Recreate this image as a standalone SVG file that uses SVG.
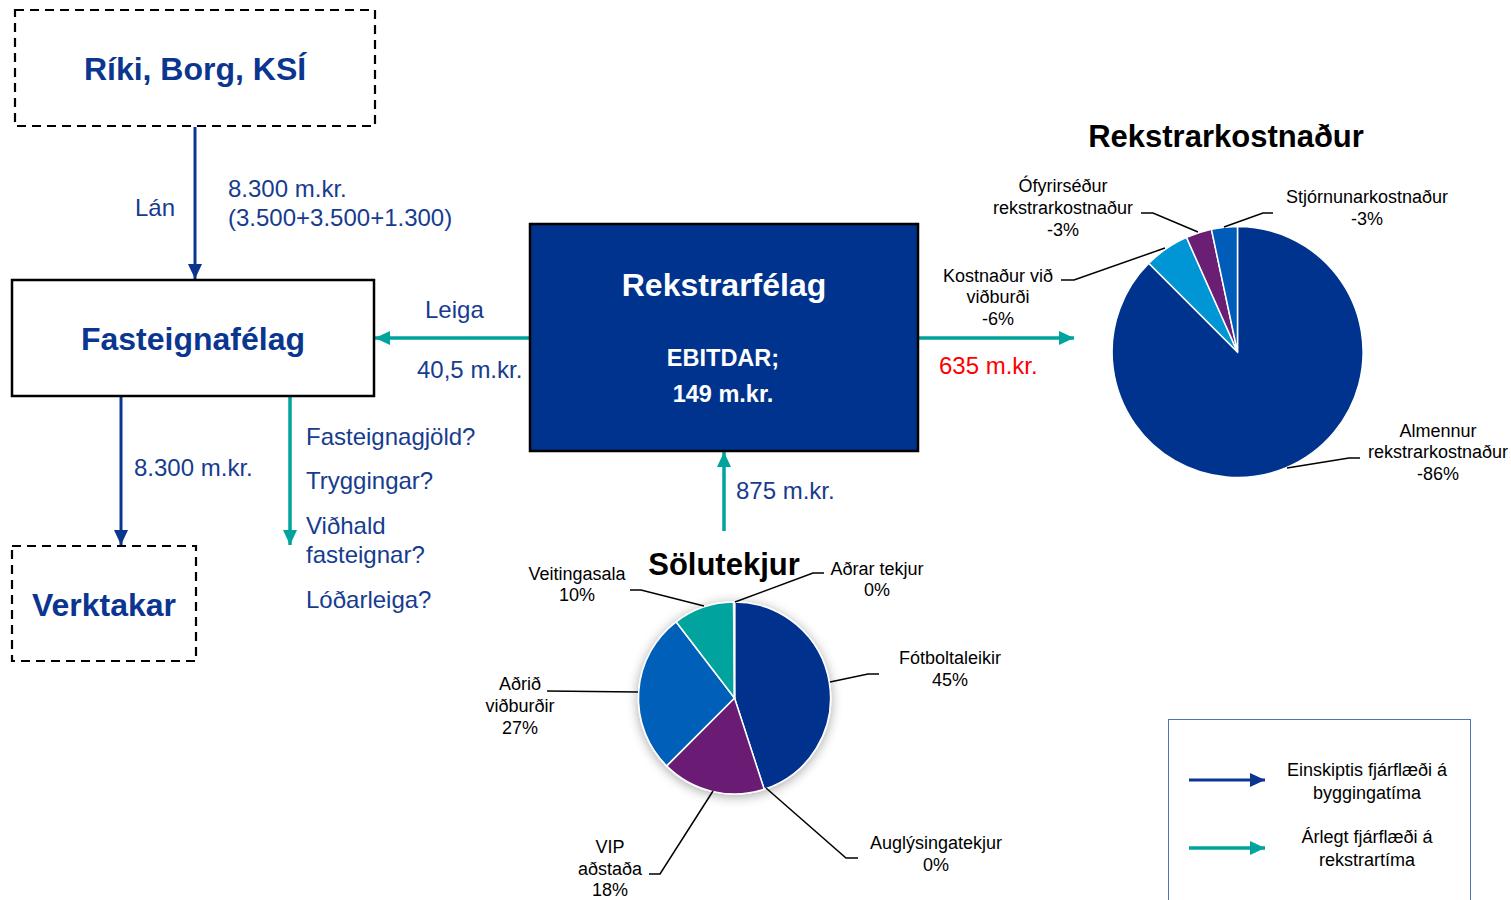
<svg xmlns="http://www.w3.org/2000/svg" width="1511" height="900" viewBox="0 0 1511 900">
<style>
.lbl{font-family:"Liberation Sans",Arial,sans-serif;font-size:24px;fill:#173C8F}
.big{font-family:"Liberation Sans",Arial,sans-serif;font-size:32px;font-weight:bold;fill:#0B3690}
.pl{font-family:"Liberation Sans",Arial,sans-serif;font-size:18px;fill:#000;text-anchor:middle}
.ttl{font-family:"Liberation Sans",Arial,sans-serif;font-size:31px;font-weight:bold;fill:#000;text-anchor:middle}
.navy{stroke:#0B3690;stroke-width:3;fill:none}
.teal{stroke:#00A39D;stroke-width:3.5;fill:none}
.dash{fill:#fff;stroke:#000;stroke-width:2.2;stroke-dasharray:9,6}
.lead{stroke:#000;stroke-width:1.5;fill:none}
.sl{stroke:#fff;stroke-width:1.5}
</style>
<defs>
<marker id="an" markerUnits="userSpaceOnUse" markerWidth="16" markerHeight="16" refX="15" refY="8" orient="auto"><path d="M0,1 L15,8 L0,15 z" fill="#0B3690"/></marker>
<marker id="at" markerUnits="userSpaceOnUse" markerWidth="16" markerHeight="16" refX="15" refY="8" orient="auto"><path d="M0,1 L15,8 L0,15 z" fill="#00A39D"/></marker>
<filter id="sh" x="-30%" y="-30%" width="160%" height="160%"><feGaussianBlur in="SourceAlpha" stdDeviation="6"/><feOffset dx="0" dy="2"/><feComponentTransfer><feFuncA type="linear" slope="0.35"/></feComponentTransfer><feMerge><feMergeNode/><feMergeNode in="SourceGraphic"/></feMerge></filter>
</defs>
<rect width="1511" height="900" fill="#fff"/>

<g id="connectors">
<line class="navy" x1="195" y1="127" x2="195" y2="279" marker-end="url(#an)"/>
<line class="navy" x1="121" y1="396" x2="121" y2="545" marker-end="url(#an)"/>
<line class="teal" x1="290" y1="396" x2="290" y2="545" marker-end="url(#at)"/>
<line class="teal" x1="530" y1="338" x2="375" y2="338" marker-end="url(#at)"/>
<line class="teal" x1="918" y1="338" x2="1074" y2="338" marker-end="url(#at)"/>
<line class="teal" x1="724" y1="531" x2="724" y2="452" marker-end="url(#at)"/>
<text class="lbl" x="135" y="216">Lán</text>
<text class="lbl" x="228" y="197">8.300 m.kr.</text>
<text class="lbl" x="228" y="226">(3.500+3.500+1.300)</text>
<text class="lbl" x="134" y="476">8.300 m.kr.</text>
<text class="lbl" x="306" y="445">Fasteignagjöld?</text>
<text class="lbl" x="306" y="489">Tryggingar?</text>
<text class="lbl" x="306" y="534">Viðhald</text>
<text class="lbl" x="306" y="563">fasteignar?</text>
<text class="lbl" x="306" y="608">Lóðarleiga?</text>
<text class="lbl" x="425" y="318">Leiga</text>
<text class="lbl" x="417" y="378">40,5 m.kr.</text>
<text class="lbl" x="939" y="374" style="fill:#FF0000">635 m.kr.</text>
<text class="lbl" x="736" y="499">875 m.kr.</text>
</g>

<g id="node-riki">
<rect class="dash" x="15" y="10" width="360" height="116"/>
<text class="big" x="195" y="80" text-anchor="middle">Ríki, Borg, KSÍ</text>
</g>

<g id="node-fasteignafelag">
<rect x="12" y="280" width="362" height="116" fill="#fff" stroke="#000" stroke-width="2.5"/>
<text class="big" x="193" y="350" text-anchor="middle">Fasteignafélag</text>
</g>

<g id="node-verktakar">
<rect class="dash" x="12" y="546" width="184" height="115"/>
<text class="big" x="104" y="616" text-anchor="middle">Verktakar</text>
</g>

<g id="node-rekstrarfelag">
<rect x="530" y="224" width="388" height="227" fill="#00338D" stroke="#000" stroke-width="2.5"/>
<text class="big" x="724" y="296" text-anchor="middle" style="fill:#fff">Rekstrarfélag</text>
<text x="723" y="366" text-anchor="middle" style="font-family:'Liberation Sans',Arial,sans-serif;font-size:23.5px;font-weight:bold;fill:#fff">EBITDAR;</text>
<text x="723" y="402" text-anchor="middle" style="font-family:'Liberation Sans',Arial,sans-serif;font-size:23.5px;font-weight:bold;fill:#fff">149 m.kr.</text>
</g>

<g id="node-rekstrarkostnadur">
<text class="ttl" x="1226" y="147">Rekstrarkostnaður</text>
<path d="M1237.5,352 L1237.5,226.5 A125.5,125.5 0 1 1 1148.8,263.3 Z" fill="#00338D" class="sl"/>
<path d="M1237.5,352 L1148.8,263.3 A125.5,125.5 0 0 1 1186.5,237.4 Z" fill="#0096D6" class="sl"/>
<path d="M1237.5,352 L1186.5,237.4 A125.5,125.5 0 0 1 1211.4,229.2 Z" fill="#6A1F74" class="sl"/>
<path d="M1237.5,352 L1211.4,229.2 A125.5,125.5 0 0 1 1237.5,226.5 Z" fill="#005CB9" class="sl"/>
<polyline class="lead" points="1141,213 1153,213 1198,232"/>
<polyline class="lead" points="1273,213 1263,213 1224,227"/>
<polyline class="lead" points="1061,280 1074,280 1165,248"/>
<polyline class="lead" points="1287,468 1349,458 1360,458"/>
<text class="pl" x="1063" y="192">Ófyrirséður</text>
<text class="pl" x="1063" y="214">rekstrarkostnaður</text>
<text class="pl" x="1063" y="236">-3%</text>
<text class="pl" x="1367" y="203">Stjórnunarkostnaður</text>
<text class="pl" x="1367" y="225">-3%</text>
<text class="pl" x="998" y="282">Kostnaður við</text>
<text class="pl" x="998" y="303">viðburði</text>
<text class="pl" x="998" y="325">-6%</text>
<text class="pl" x="1438" y="437">Almennur</text>
<text class="pl" x="1438" y="458">rekstrarkostnaður</text>
<text class="pl" x="1438" y="480">-86%</text>
</g>

<g id="node-solutekjur">
<g filter="url(#sh)">
<path d="M734.5,698 L734.5,602 A96,96 0 0 1 764.2,789.3 Z" fill="#00338D" class="sl"/>
<path d="M734.5,698 L764.2,789.3 A96,96 0 0 1 666.6,765.9 Z" fill="#6A1F74" class="sl"/>
<path d="M734.5,698 L666.6,765.9 A96,96 0 0 1 676.1,621.8 Z" fill="#005EB8" class="sl"/>
<path d="M734.5,698 L676.1,621.8 A96,96 0 0 1 733.5,602 Z" fill="#00A39D" class="sl"/>
<line x1="734.5" y1="698" x2="734.5" y2="602" stroke="#fff" stroke-width="2"/>
</g>
<text class="ttl" x="724" y="575">Sölutekjur</text>
<polyline class="lead" points="630,590 641,590 704,606"/>
<polyline class="lead" points="824,573 813,573 735,602"/>
<polyline class="lead" points="830,682 868,674 879,674"/>
<polyline class="lead" points="766,788 846,858 858,858"/>
<polyline class="lead" points="713,791 660,874 649,874"/>
<polyline class="lead" points="638,692 547,691"/>
<text class="pl" x="577" y="580">Veitingasala</text>
<text class="pl" x="577" y="601">10%</text>
<text class="pl" x="877" y="575">Aðrar tekjur</text>
<text class="pl" x="877" y="596">0%</text>
<text class="pl" x="950" y="664">Fótboltaleikir</text>
<text class="pl" x="950" y="686">45%</text>
<text class="pl" x="936" y="849">Auglýsingatekjur</text>
<text class="pl" x="936" y="871">0%</text>
<text class="pl" x="610" y="853">VIP</text>
<text class="pl" x="610" y="875">aðstaða</text>
<text class="pl" x="610" y="896">18%</text>
<text class="pl" x="520" y="690">Aðrið</text>
<text class="pl" x="520" y="712">viðburðir</text>
<text class="pl" x="520" y="734">27%</text>
</g>

<g id="legend">
<rect x="1168.5" y="719.5" width="302" height="200" fill="#fff" stroke="#4F74B8" stroke-width="1"/>
<line class="navy" x1="1189" y1="780" x2="1265" y2="780" marker-end="url(#an)"/>
<line class="teal" x1="1189" y1="848" x2="1265" y2="848" marker-end="url(#at)"/>
<text class="pl" x="1367" y="776">Einskiptis fjárflæði á</text>
<text class="pl" x="1367" y="799">byggingatíma</text>
<text class="pl" x="1367" y="843">Árlegt fjárflæði á</text>
<text class="pl" x="1367" y="866">rekstrartíma</text>
</g>
</svg>
